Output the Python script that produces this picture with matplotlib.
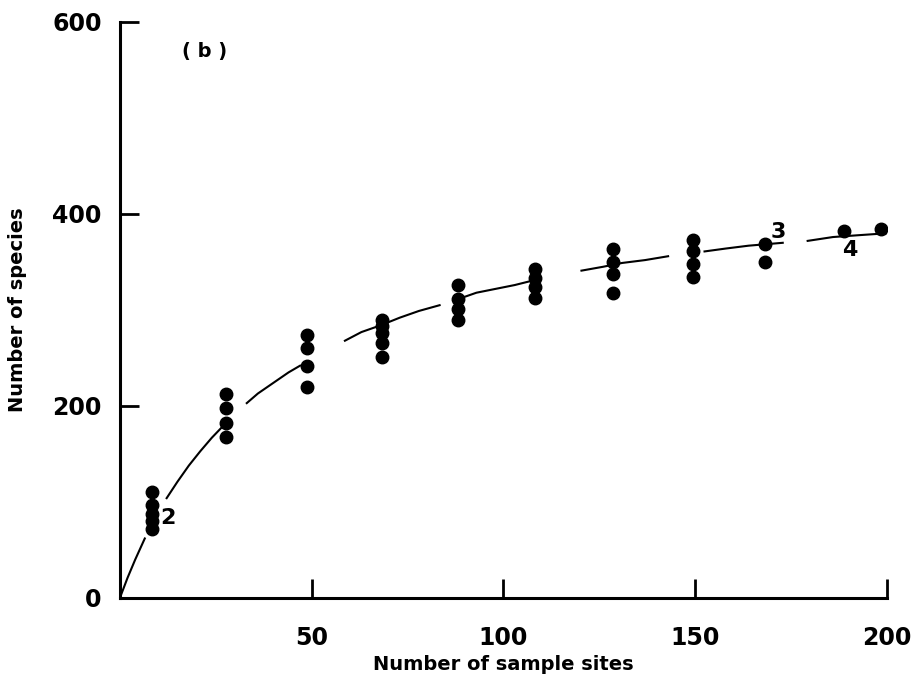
import numpy as np
import matplotlib.pyplot as plt

# Sample-site columns (number of sites) and species counts
site_x = [8.3, 27.8, 48.7, 68.5, 88.1, 108.4, 128.6, 149.4, 168.4, 189.0, 198.6]
species = [
    [110, 97, 88, 80, 72],
    [212, 198, 182, 168],
    [274, 260, 242, 220],
    [290, 283, 276, 266, 251],
    [326, 311, 301, 290],
    [343, 333, 324, 313],
    [364, 350, 338, 318],
    [373, 361, 348, 334],
    [369, 350],
    [382],
    [384],
]

# fitted curve, drawn in broken pieces like the original (nan = gap)
curve_x = [0, 2, 4, 6.5, np.nan,
           12.2, 15, 18, 21, 24, 27.6, np.nan,
           33.1, 36, 40, 44, 47, np.nan,
           58.7, 63, 68, 73, 78, 83.4, np.nan,
           88.7, 93, 98, 103, 107, np.nan,
           120.4, 126, 131, 137, 143, np.nan,
           152.5, 158, 164, 172.9, np.nan,
           179.4, 186, 193, 200.3]
curve_y = [0, 21, 40, 62, np.nan,
           104, 121, 138, 153, 167, 182, np.nan,
           203, 213, 224, 235, 242, np.nan,
           268, 277, 284, 292, 299, 305, np.nan,
           312, 318, 322, 326, 330, np.nan,
           341, 345, 349, 352, 356, np.nan,
           361, 364, 367, 370, np.nan,
           372, 376, 378, 380]

# multiplicity labels
note_text = ["2", "3", "4"]
note_x = [12.5, 171.8, 190.4]
note_y = [83, 381, 362]

plt.rcParams["font.family"] = "DejaVu Sans"

fig = plt.figure(figsize=(9.15, 6.79), dpi=100)
ax = fig.add_axes([0.131, 0.1193, 0.838, 0.8483])

ax.plot(curve_x, curve_y, color="black", lw=1.5)

for x, ys in zip(site_x, species):
    ax.plot([x] * len(ys), ys, "o", color="black", ms=9, mec="black")

for t, x, y in zip(note_text, note_x, note_y):
    ax.text(x, y, t, fontsize=16, fontweight="bold", ha="center", va="center")

ax.text(22, 569, "( b )", fontsize=14, fontweight="bold", ha="center", va="center")

ax.set_xlim(0, 200)
ax.set_ylim(0, 600)
ax.set_xticks([50, 100, 150, 200])
ax.set_yticks([0, 200, 400, 600])
ax.set_xticklabels(["50", "100", "150", "200"], fontsize=17, fontweight="bold")
ax.set_yticklabels(["0", "200", "400", "600"], fontsize=17, fontweight="bold")
ax.tick_params(axis="both", direction="in", length=14, width=2, colors="black")
ax.tick_params(axis="x", pad=20)
ax.tick_params(axis="y", pad=13)

for side in ["top", "right"]:
    ax.spines[side].set_visible(False)
for side in ["left", "bottom"]:
    ax.spines[side].set_linewidth(2.2)

ax.set_xlabel("Number of sample sites", fontsize=14, fontweight="bold", labelpad=4)
ax.set_ylabel("Number of species", fontsize=14, fontweight="bold", labelpad=18)

fig.savefig("out.png", dpi=100)
